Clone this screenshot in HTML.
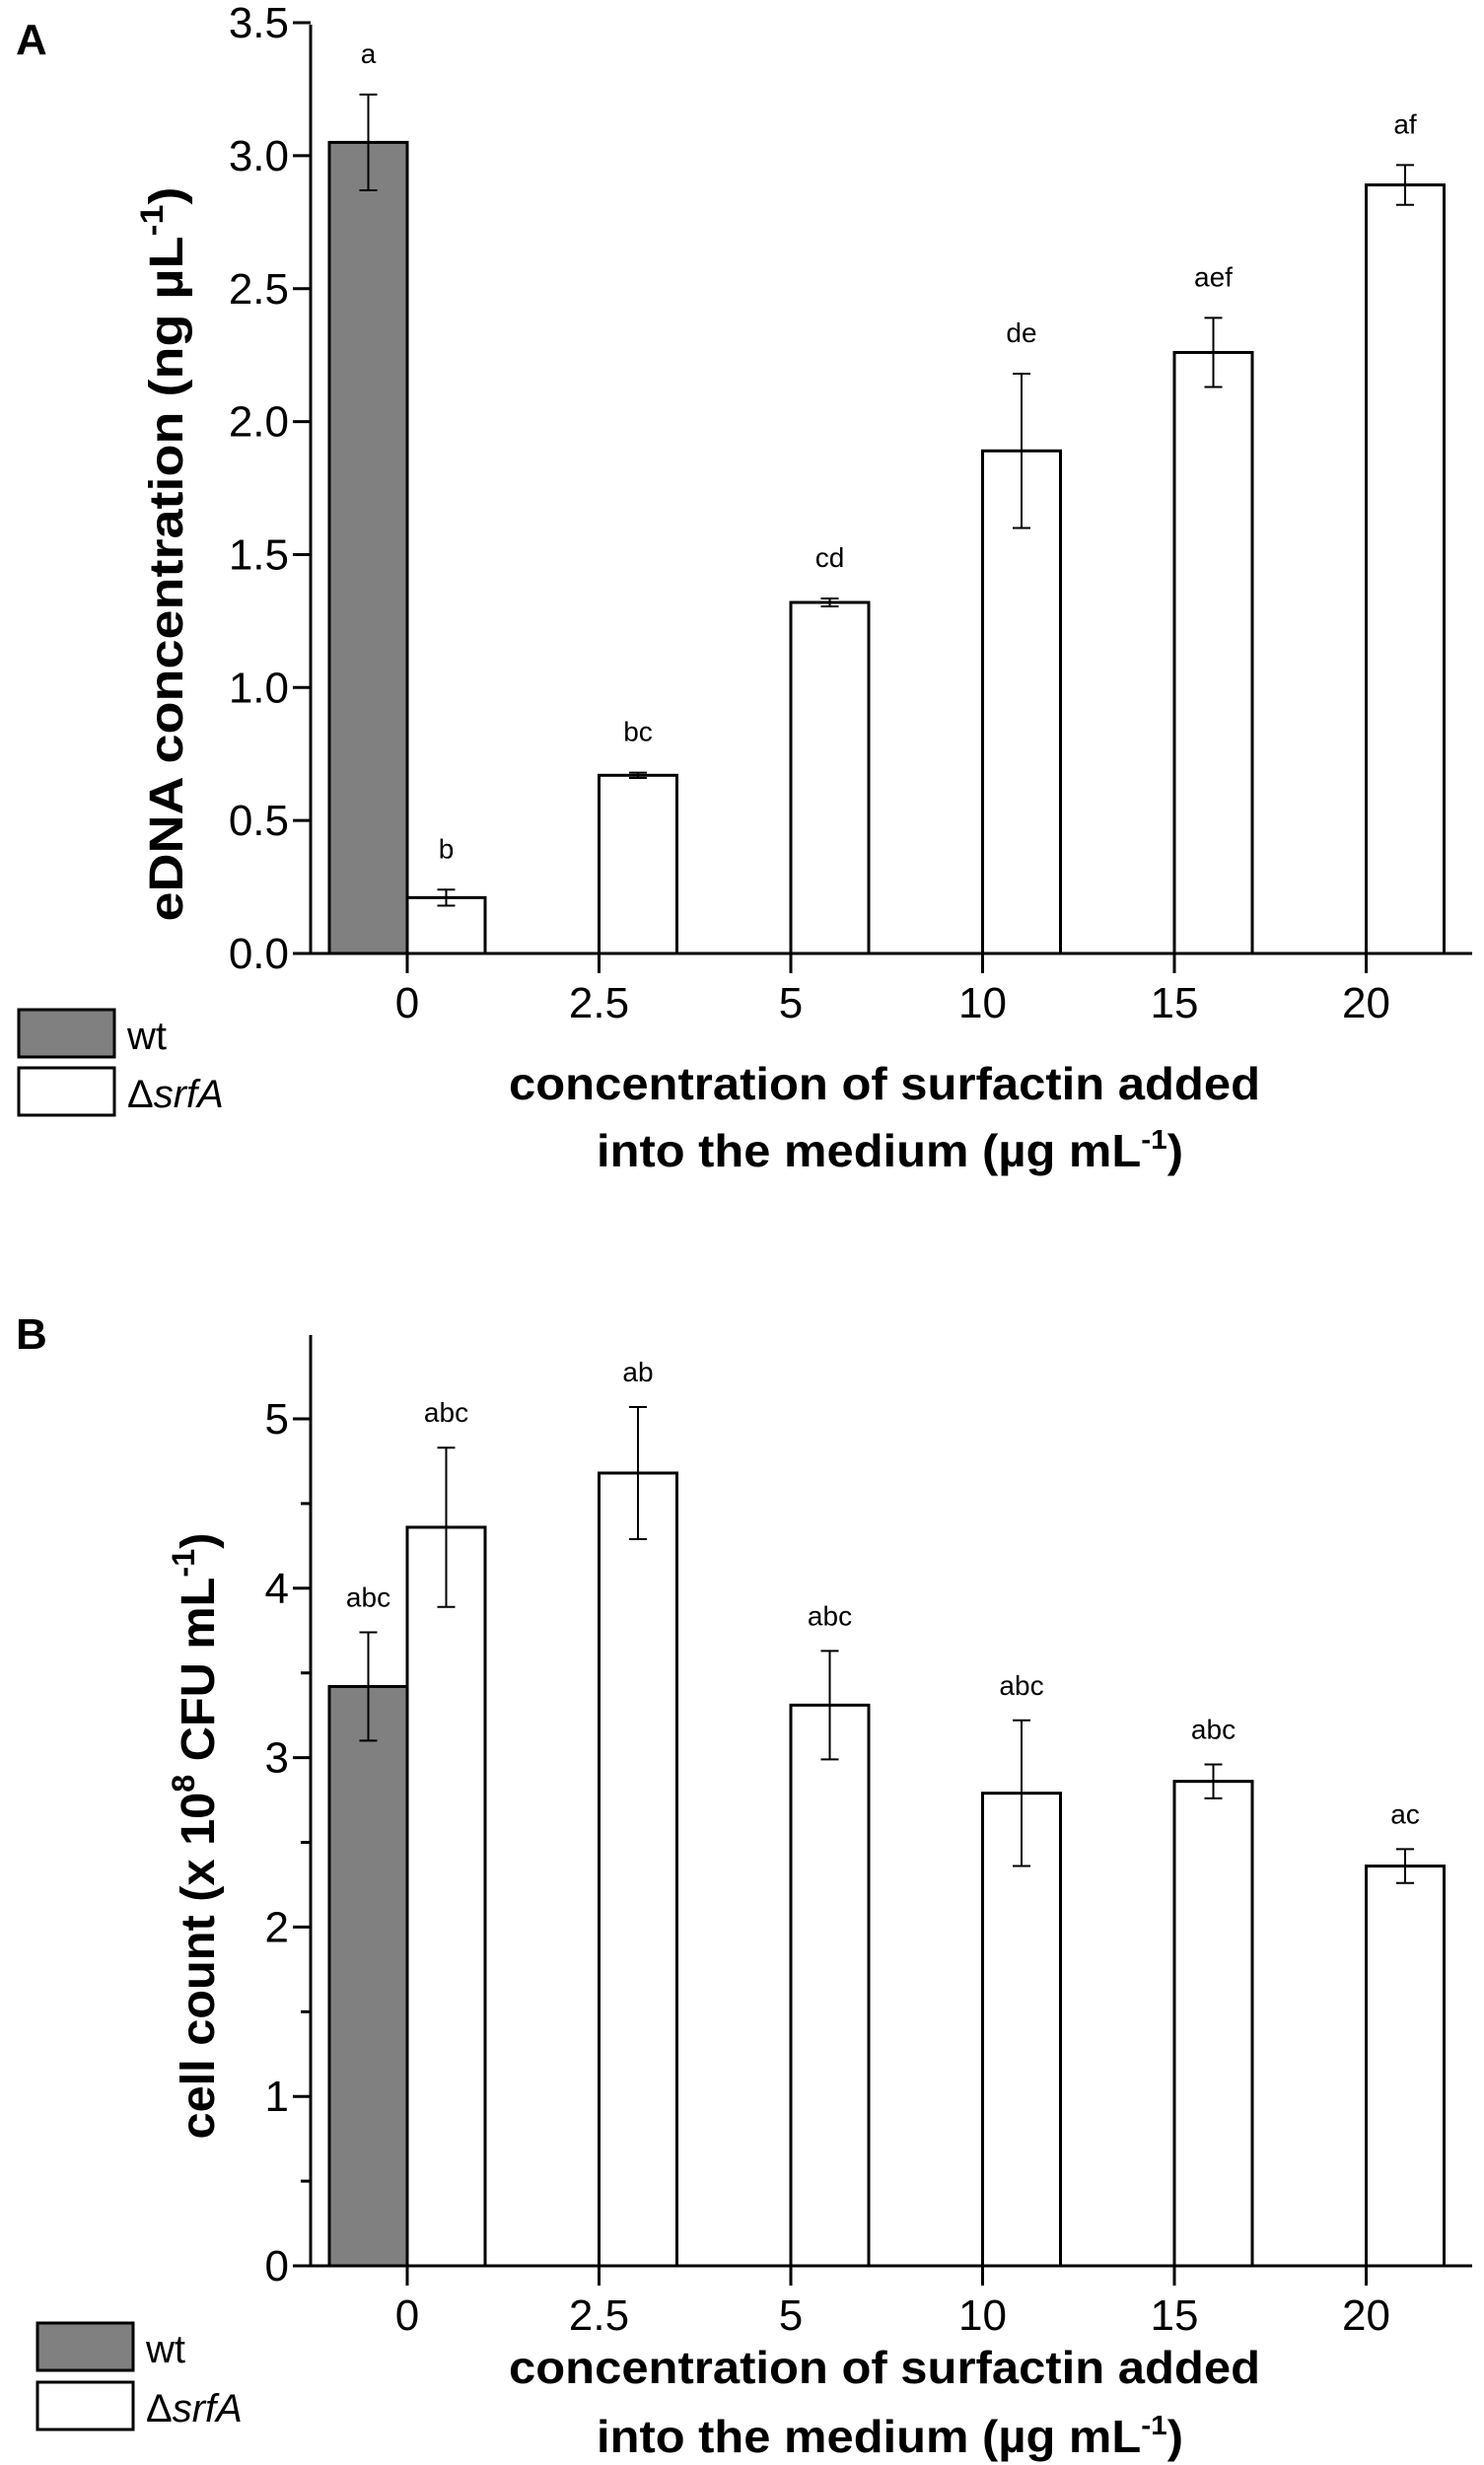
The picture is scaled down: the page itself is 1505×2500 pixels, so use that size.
<!DOCTYPE html>
<html><head><meta charset="utf-8"><style>
html,body{margin:0;padding:0;background:#fff;}
svg{display:block;font-family:"Liberation Sans",Arial,sans-serif;}
</style></head><body>
<svg id="fig" width="1505" height="2500" viewBox="0 0 1505 2500" xmlns="http://www.w3.org/2000/svg"></svg>
<script>
// ---- data ----
const categories = ["0","2.5","5","10","15","20"];
const aTicks = ["0.0","0.5","1.0","1.5","2.0","2.5","3.0","3.5"];
const aWt = [3.05];
const aWtErr = [0.18];
const aSrfA = [0.21,0.67,1.32,1.89,2.26,2.89];
const aSrfAErr = [0.03,0.01,0.015,0.29,0.13,0.075];
const aWtLetters = ["a"];
const aSrfALetters = ["b","bc","cd","de","aef","af"];
const bTicks = ["0","1","2","3","4","5"];
const bWt = [3.42];
const bWtErr = [0.32];
const bSrfA = [4.36,4.68,3.31,2.79,2.86,2.36];
const bSrfAErr = [0.47,0.39,0.32,0.43,0.10,0.10];
const bWtLetters = ["abc"];
const bSrfALetters = ["abc","ab","abc","abc","abc","ac"];

const NS="http://www.w3.org/2000/svg";
const svg=document.getElementById('fig');
function mk(tag,attrs,parent,text){const e=document.createElementNS(NS,tag);for(const k in attrs)e.setAttribute(k,attrs[k]);if(text!==undefined)e.textContent=text;(parent||svg).appendChild(e);return e;}

function panel(cfg){
  const g=mk('g',{});
  
  
  const x0=413, step=194.5, bw=79, axisX=315;
  const xPos=i=>x0+i*step;
  const yPos=v=>cfg.y0-v*cfg.unit;
  cfg.srf.forEach((v,i)=>{
    const r=mk('rect',{x:xPos(i),y:yPos(v),width:bw,height:cfg.y0-yPos(v),fill:'#fff',stroke:'#000','stroke-width':3},g);
    
    
  });
  cfg.wt.forEach((v,i)=>{
    const r=mk('rect',{x:xPos(i)-bw,y:yPos(v),width:bw,height:cfg.y0-yPos(v),fill:'#808080',stroke:'#000','stroke-width':3},g);
    
    
  });
  function err(cx,v,e,lab){
    const eg=mk('g',{stroke:'#000','stroke-width':2},g);
    
    
    mk('line',{x1:cx,x2:cx,y1:yPos(v+e),y2:yPos(v-e)},eg);
    mk('line',{x1:cx-9,x2:cx+9,y1:yPos(v+e),y2:yPos(v+e)},eg);
    mk('line',{x1:cx-9,x2:cx+9,y1:yPos(v-e),y2:yPos(v-e)},eg);
    const t=mk('text',{x:cx,y:yPos(v+e)-cfg.labGap,'text-anchor':'middle','font-size':28},g,lab);
    
    
  }
  cfg.srf.forEach((v,i)=>err(xPos(i)+bw/2,v,cfg.srfErr[i],cfg.srfLab[i]));
  cfg.wt.forEach((v,i)=>err(xPos(i)-bw/2,v,cfg.wtErr[i],cfg.wtLab[i]));
  const ax=mk('g',{stroke:'#000','stroke-width':3},g);
  
  
  mk('line',{x1:axisX,x2:axisX,y1:cfg.top,y2:cfg.y0},ax);
  mk('line',{x1:297,x2:1493,y1:cfg.y0,y2:cfg.y0},ax);
  categories.forEach((c,i)=>{
    mk('line',{x1:xPos(i),x2:xPos(i),y1:cfg.y0,y2:cfg.y0+20},ax);
    const t=mk('text',{x:xPos(i),y:cfg.y0+65,'text-anchor':'middle','font-size':44},g,c);
    
    
  });
  cfg.ticks.forEach((lab,i)=>{
    const v=i*cfg.tickStep;
    mk('line',{x1:axisX-18,x2:axisX,y1:yPos(v),y2:yPos(v)},ax);
    const t=mk('text',{x:axisX-22,y:yPos(v)+15,'text-anchor':'end','font-size':44},g,lab);
    
    
    if(cfg.minor){const mv=v+cfg.tickStep/2; if(yPos(mv)>cfg.top) mk('line',{x1:axisX-10,x2:axisX,y1:yPos(mv),y2:yPos(mv)},ax);}
  });
}

panel({name:'panel-a-chart',y0:967,unit:269.7,top:25,ticks:aTicks,tickStep:0.5,minor:false,
  wt:aWt,wtErr:aWtErr,srf:aSrfA,srfErr:aSrfAErr,wtLab:aWtLetters,srfLab:aSrfALetters,labGap:32});
panel({name:'panel-b-chart',y0:2298,unit:171.8,top:1354,ticks:bTicks,tickStep:1,minor:true,
  wt:bWt,wtErr:bWtErr,srf:bSrfA,srfErr:bSrfAErr,wtLab:bWtLetters,srfLab:bSrfALetters,labGap:26});
</script>
<script>
(function(){
const NS="http://www.w3.org/2000/svg";
const svg=document.getElementById('fig');
function mk(tag,attrs,parent,text){const e=document.createElementNS(NS,tag);for(const k in attrs)e.setAttribute(k,attrs[k]);if(text!==undefined)e.textContent=text;(parent||svg).appendChild(e);return e;}
function label(txt,x,y,name){const t=mk('text',{x:x,y:y,'font-size':44,'font-weight':'bold'},svg,txt);

}
label('A',16,55,'panel-a-label');
label('B',16,1368,'panel-b-label');
function xtitle(y1,y2,name){
  const t=mk('text',{x:516,y:y1,'font-size':46,'font-weight':'bold',textLength:762,lengthAdjust:'spacingAndGlyphs'},svg,'concentration of surfactin added');
  
  
  const t2=mk('text',{x:605,y:y2,'font-size':46,'font-weight':'bold',textLength:595,lengthAdjust:'spacingAndGlyphs'},svg);
  
  
  t2.innerHTML='into the medium (µg mL<tspan dy="-18" font-size="28">-1</tspan><tspan dy="18">)</tspan>';
}
xtitle(1115,1183,'x-axis-title-a');
xtitle(2417,2487,'x-axis-title-b');
function ytitle(cx,cy,len,html,name){
  const t=mk('text',{x:0,y:0,'font-size':48,'font-weight':'bold','text-anchor':'middle',transform:`translate(${cx},${cy}) rotate(-90)`,textLength:len,lengthAdjust:'spacingAndGlyphs'},svg);
  
  
  t.innerHTML=html;
}
ytitle(185,562,745,'eDNA concentration (ng µL<tspan dy="-20" font-size="32">-1</tspan><tspan dy="20">)</tspan>','y-axis-title-a');
ytitle(217,1862,615,'cell count (x 10<tspan dy="-20" font-size="32">8</tspan><tspan dy="20"> CFU mL</tspan><tspan dy="-20" font-size="32">-1</tspan><tspan dy="20">)</tspan>','y-axis-title-b');
function legend(x,y1,y2,name){
  const g=mk('g',{});
  
  
  const r1=mk('rect',{x:x,y:y1,width:97,height:48,fill:'#808080',stroke:'#000','stroke-width':3},g);
  
  
  const r2=mk('rect',{x:x,y:y2,width:97,height:48,fill:'#fff',stroke:'#000','stroke-width':3},g);
  
  
  const t1=mk('text',{x:x+110,y:y1+40,'font-size':40},g,'wt');
  
  
  const t2=mk('text',{x:x+110,y:y2+40,'font-size':40},g);
  
  
  t2.innerHTML='Δ<tspan font-style="italic">srfA</tspan>';
}
legend(19,1024,1083,'legend-a');
legend(38,2356,2416,'legend-b');
})();
</script>
</body></html>
